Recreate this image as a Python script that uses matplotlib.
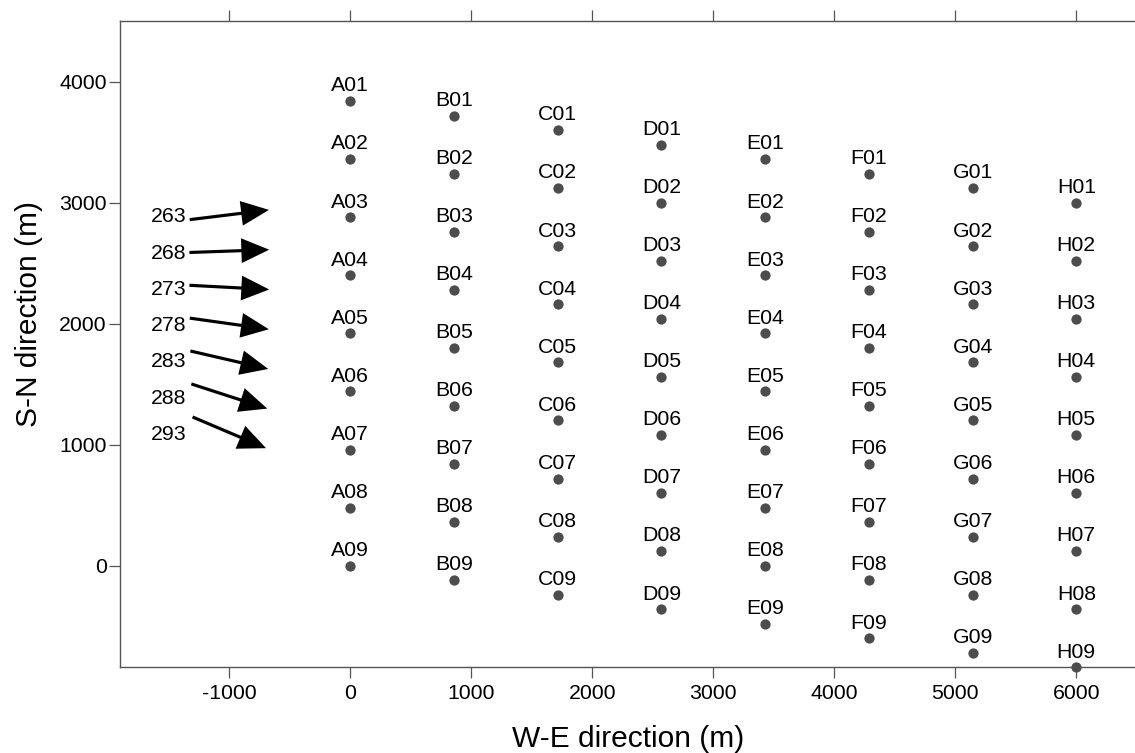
import numpy as np
import matplotlib
matplotlib.use("Agg")
import matplotlib.pyplot as plt

plt.rcParams['font.family'] = ['Liberation Sans', 'DejaVu Sans']

# Turbine layout: 8 columns (A-H) x 9 rows, each column shifted south
columns = ["A", "B", "C", "D", "E", "F", "G", "H"]
column_x = [0, 857, 1714, 2571, 3429, 4286, 5143, 6000]
column_shift = [0, -120, -240, -360, -480, -600, -720, -840]
row_y = [3840, 3360, 2880, 2400, 1920, 1440, 960, 480, 0]

# Wind directions (degrees) and arrow centres
wind_dirs = [263, 268, 273, 278, 283, 288, 293]
arrow_y = [2900, 2600, 2300, 2000, 1700, 1400, 1100]
arrow_x = -1000
arrow_len = 660
label_x = -1500

x_ticks = [-1000, 0, 1000, 2000, 3000, 4000, 5000, 6000]
y_ticks = [0, 1000, 2000, 3000, 4000]

W, H = 1135, 753
fig = plt.figure(figsize=(W / 100, H / 100), dpi=100)
ax = fig.add_axes([120.4 / W, 1 - 667.3 / H, (1136.8 - 120.4) / W, (667.3 - 21.2) / H])

fs = 15.3
dot_color = "#4d4d4d"
spine_color = "#555555"

for name, cx, sh in zip(columns, column_x, column_shift):
    ys = [y + sh for y in row_y]
    xs = [cx] * len(ys)
    ax.plot(xs, ys, "o", color=dot_color, markersize=7.4, markeredgewidth=0,
            clip_on=False, zorder=4)
    for i, y in enumerate(ys):
        ax.annotate(f"{name}{i + 1:02d}", (cx, y), xytext=(0, 9.7),
                    textcoords="offset pixels", ha="center", va="baseline",
                    fontsize=fs, color="black")

for d, yc in zip(wind_dirs, arrow_y):
    heading = np.deg2rad(d - 180)
    dx = np.sin(heading) * arrow_len
    dy = np.cos(heading) * arrow_len
    ax.arrow(arrow_x - dx / 2, yc - dy / 2, dx, dy, width=26, head_width=205,
             head_length=230, length_includes_head=True, color="black",
             linewidth=0, zorder=5)
    ax.annotate(str(d), (label_x, yc), xytext=(0, -7.5), textcoords="offset pixels",
                ha="center", va="baseline", fontsize=fs, color="black")

ax.set_xlim(-1900, 6500)
ax.set_ylim(-840, 4500)
ax.set_xticks(x_ticks)
ax.set_xticklabels([str(v) for v in x_ticks])
ax.set_yticks(y_ticks)
ax.set_yticklabels([str(v) for v in y_ticks])

ax.spines["right"].set_visible(False)
for s in ["left", "bottom", "top"]:
    ax.spines[s].set_color(spine_color)
    ax.spines[s].set_linewidth(1.0)

ax.tick_params(axis="x", which="both", top=True, bottom=True, labeltop=False,
               direction="out", length=8, width=0.9, color=spine_color,
               labelsize=fs, pad=4)
ax.tick_params(axis="y", which="both", left=True, right=False, direction="out",
               length=8, width=0.9, color=spine_color, labelsize=fs, pad=2)

fig.text(628 / W, 1 - 747.3 / H, "W-E direction (m)", ha="center", va="baseline",
         fontsize=21.5)
fig.text(36.7 / W, 1 - 314 / H, "S-N direction (m)", ha="center", va="baseline",
         rotation=90, rotation_mode="anchor", fontsize=21.5)

fig.savefig("out.png", dpi=100)
